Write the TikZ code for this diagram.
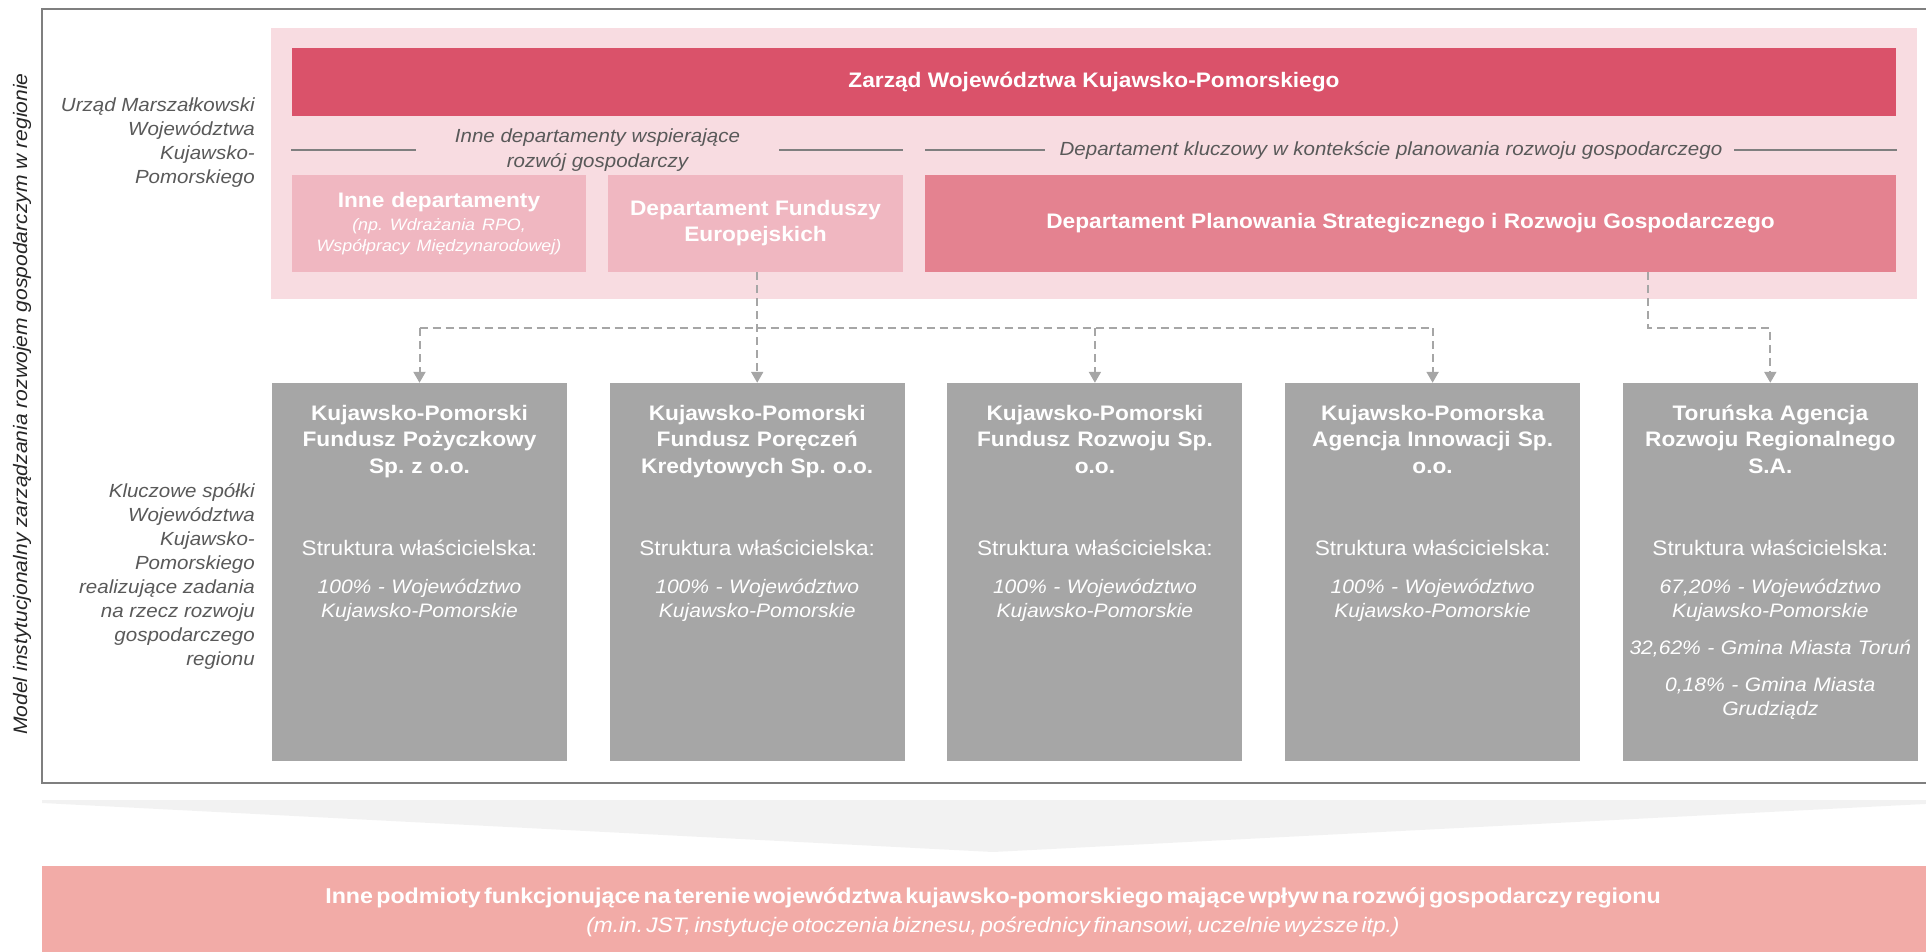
\documentclass[tikz,border=0pt]{standalone}
\usepackage{fontspec}
\setmainfont{Liberation Sans}[FakeStretch=1.08]
\usepackage{tikz}
\usetikzlibrary{positioning,arrows.meta}
\frenchspacing

\definecolor{zarzadred}{RGB}{218,82,106}
\definecolor{tlopink}{RGB}{248,220,225}
\definecolor{jasnypink}{RGB}{240,183,193}
\definecolor{sredpink}{RGB}{228,130,144}
\definecolor{szary}{RGB}{166,166,166}
\definecolor{ramkagray}{RGB}{127,127,127}
\definecolor{napisgray}{RGB}{89,89,89}
\definecolor{klinek}{RGB}{242,242,242}
\definecolor{dolpink}{RGB}{242,171,167}

\tikzset{
  dzial/.style={fill=jasnypink, text=white, minimum height=97pt, inner sep=2pt,
    align=center, font=\fontsize{21}{26}\selectfont\bfseries},
  firma/.style={fill=szary, minimum width=295pt, minimum height=378pt, inner sep=0pt},
  tytul/.style={text=white, text width=300pt, align=center, inner sep=0pt,
    font=\fontsize{21}{26.5}\selectfont\bfseries},
  struktura/.style={text=white, inner sep=0pt, font=\fontsize{21}{24}\selectfont},
  udzial/.style={text=white, text width=300pt, align=center, inner sep=0pt,
    font=\fontsize{19.5}{24}\selectfont\itshape},
  opis/.style={text=napisgray, align=right, anchor=east, inner sep=0pt,
    font=\fontsize{19}{24}\selectfont\itshape},
  naglowek/.style={text=napisgray, align=center, inner sep=0pt,
    font=\fontsize{19}{25.3}\selectfont\itshape},
  kreska/.style={draw=ramkagray, line width=2pt},
  powiazanie/.style={draw=szary, line width=2pt, dash pattern=on 8pt off 5pt},
}

\begin{document}
\begin{tikzpicture}[x=1pt,y=-1pt,>={Triangle[width=12pt,length=11pt]}]
        \useasboundingbox (0,0) rectangle (1926,952);
        \fill[tlopink] (271,28) rectangle (1917,299);
        \draw[ramkagray, line width=2.5pt] (42,9) rectangle (1944,783);

        \node[rotate=90, inner sep=0pt, text=black!85, font=\fontsize{19.5}{24}\selectfont\itshape] (model) at (22,404)
          {Model instytucjonalny zarządzania rozwojem gospodarczym w regionie};

        \node[fill=zarzadred, text=white, minimum width=1604pt, minimum height=68pt,
          font=\fontsize{21}{26}\selectfont\bfseries] (zarzad) at (1094,82) {Zarząd Województwa Kujawsko-Pomorskiego};

        \node[opis] (urzad) at (255,143) {Urząd Marszałkowski\\Województwa\\Kujawsko-\\Pomorskiego};
        \node[naglowek] (wspierajace) at (597.5,150) {Inne departamenty wspierające\\rozwój gospodarczy};
        \node[naglowek] (kluczowy) at (1391,150) {Departament kluczowy w kontekście planowania rozwoju gospodarczego};
        \draw[kreska] (291,150) -- (416,150);
        \draw[kreska] (779,150) -- (903,150);
        \draw[kreska] (925,150) -- (1045,150);
        \draw[kreska] (1734,150) -- (1897,150);

        \node[dzial, text width=290pt] (inne) at (439,223.5)
          {{\bfseries Inne departamenty}\par\vspace{3pt}%
           {\fontsize{16.5}{20.6}\selectfont\mdseries\itshape (np. Wdrażania RPO,\\Współpracy Międzynarodowej)\par}};
        \node[dzial, minimum width=295pt] (dfe) at (755.5,223.5) {Departament Funduszy\\Europejskich};
        \node[dzial, fill=sredpink, minimum width=971pt] (dps) at (1410.5,223.5)
          {Departament Planowania Strategicznego i Rozwoju Gospodarczego};

        \node[firma] (kpfp) at (419.5,572) {};
        \node[firma, right=42.3pt of kpfp] (kpfpk) {};
        \node[firma, right=42.3pt of kpfpk] (kpfr) {};
        \node[firma, right=42.3pt of kpfr] (kpia) {};
        \node[firma, right=42.3pt of kpia] (tarr) {};

        \node[opis] (spolki) at (255,576) {Kluczowe spółki\\Województwa\\Kujawsko-\\Pomorskiego\\realizujące zadania\\na rzecz rozwoju\\gospodarczego\\regionu};

        \node[tytul, below=22pt of kpfp.north] (kpfp-nazwa) {Kujawsko-Pomorski\\Fundusz Pożyczkowy\\Sp. z o.o.};
        \node[struktura, below=157pt of kpfp.north] (kpfp-struktura) {Struktura właścicielska:};
        \node[udzial, below=196pt of kpfp.north] (kpfp-udzial) {100\% - Województwo\\Kujawsko-Pomorskie};

        \node[tytul, below=22pt of kpfpk.north] (kpfpk-nazwa) {Kujawsko-Pomorski\\Fundusz Poręczeń\\Kredytowych Sp. o.o.};
        \node[struktura, below=157pt of kpfpk.north] (kpfpk-struktura) {Struktura właścicielska:};
        \node[udzial, below=196pt of kpfpk.north] (kpfpk-udzial) {100\% - Województwo\\Kujawsko-Pomorskie};

        \node[tytul, below=22pt of kpfr.north] (kpfr-nazwa) {Kujawsko-Pomorski\\Fundusz Rozwoju Sp.\\o.o.};
        \node[struktura, below=157pt of kpfr.north] (kpfr-struktura) {Struktura właścicielska:};
        \node[udzial, below=196pt of kpfr.north] (kpfr-udzial) {100\% - Województwo\\Kujawsko-Pomorskie};

        \node[tytul, below=22pt of kpia.north] (kpia-nazwa) {Kujawsko-Pomorska\\Agencja Innowacji Sp.\\o.o.};
        \node[struktura, below=157pt of kpia.north] (kpia-struktura) {Struktura właścicielska:};
        \node[udzial, below=196pt of kpia.north] (kpia-udzial) {100\% - Województwo\\Kujawsko-Pomorskie};

        \node[tytul, below=22pt of tarr.north] (tarr-nazwa) {Toruńska Agencja\\Rozwoju Regionalnego\\S.A.};
        \node[struktura, below=157pt of tarr.north] (tarr-struktura) {Struktura właścicielska:};
        \node[udzial, below=196pt of tarr.north] (tarr-udzial) {67,20\% - Województwo\\Kujawsko-Pomorskie\\[13pt]32,62\% - Gmina Miasta Toruń\\[13pt]0,18\% - Gmina Miasta\\Grudziądz};

        \coordinate (szyna) at (0,328);
        \draw[powiazanie] (kpfp.north |- szyna) -- (kpia.north |- szyna);
        \draw[powiazanie, ->] (kpfp.north |- szyna) -- (kpfp.north);
        \draw[powiazanie, ->] (kpfpk.north |- dfe.south) -- (kpfpk.north);
        \draw[powiazanie, ->] (kpfr.north |- szyna) -- (kpfr.north);
        \draw[powiazanie, ->] (kpia.north |- szyna) -- (kpia.north);
        \draw[powiazanie, ->] ([xshift=237.5pt]dps.south) |- (szyna -| tarr.north) -- (tarr.north);

        \fill[klinek] (42,800) -- (1944,800) -- (1944,803) -- (993,852) -- (42,803) -- cycle;
        \fill[dolpink] (42,866) rectangle (1944,960);
        \node[text=white, text width=1850pt, align=center, inner sep=0pt] (podmioty) at (993,912)
          {{\fontsize{21.5}{25}\selectfont\bfseries Inne podmioty funkcjonujące na terenie województwa kujawsko-pomorskiego mające wpływ na rozwój gospodarczy regionu\par}%
           {\fontsize{21}{29.3}\selectfont\itshape (m.in. JST, instytucje otoczenia biznesu, pośrednicy finansowi, uczelnie wyższe itp.)\par}};
      \end{tikzpicture}
\end{document}
